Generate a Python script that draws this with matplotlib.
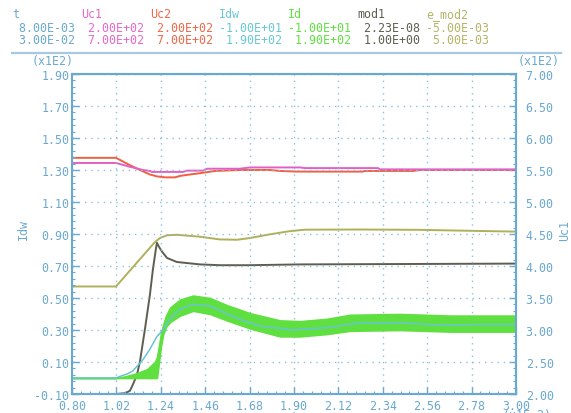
import matplotlib
matplotlib.use("Agg")
import matplotlib.pyplot as plt
import numpy as np
from matplotlib.lines import Line2D
from matplotlib.ticker import AutoMinorLocator

plt.rcParams['font.family'] = ['DejaVu Sans Mono']
plt.rcParams['axes.unicode_minus'] = False

# ---- data (t in seconds, Id/Idw in A, Uc in V) ----
t_idw = [0.800, 1.018, 1.038, 1.073, 1.102, 1.127, 1.152, 1.186, 1.221, 1.251, 1.286,
         1.335, 1.400, 1.484, 1.568, 1.657, 1.732, 1.895, 2.064, 2.227, 2.425, 2.623,
         2.822, 3.000]
idw = [0, 0, 1, 2.5, 4.5, 8, 11.5, 18, 26, 30, 37, 43, 46, 45, 40, 35.5, 32.5, 30,
       31.5, 34.5, 34.5, 33, 33.5, 33.5]

t_id = [0.800, 1.018, 1.063, 1.122, 1.172, 1.211, 1.221, 1.231, 1.241, 1.251, 1.266,
        1.286, 1.335, 1.400, 1.484, 1.568, 1.682, 1.831, 1.930, 2.064, 2.177, 2.425,
        2.673, 3.000]
id_low = [0, 0, 0, 0, 0, 0, 0, 10, 20, 27, 32, 35, 39, 42, 40, 36, 31, 26, 26, 27.5,
          29.5, 30, 29, 29]
id_high = [0, 0, 1, 3, 5.5, 10, 13, 20, 28, 33, 39, 44, 49, 51.5, 50, 45.5, 40.5, 36,
           35.5, 37, 39.5, 40, 39, 39]

t_uc1 = [0.800, 1.018, 1.087, 1.152, 1.186, 1.196, 1.350, 1.370, 1.449, 1.469, 1.632,
         1.682, 1.930, 1.955, 2.316, 2.326, 3.000]
uc1 = [561, 561, 555, 550, 548.5, 547, 547, 549, 549, 552, 552, 554, 554, 553, 553,
       551, 551]

t_uc2 = [0.800, 1.018, 1.087, 1.137, 1.186, 1.221, 1.261, 1.310, 1.335, 1.385, 1.434,
         1.509, 1.632, 1.781, 1.831, 1.915, 2.241, 2.251, 2.490, 2.524, 3.000]
uc2 = [569, 569, 557.5, 550, 543, 540, 538.5, 538.5, 540.75, 543, 545, 548.5, 550, 550,
       548.5, 547.5, 547.5, 548.5, 548.5, 550, 550]

t_mod1 = [0.800, 1.018, 1.063, 1.087, 1.102, 1.122, 1.137, 1.162, 1.186, 1.201, 1.216,
          1.221, 1.231, 1.246, 1.271, 1.320, 1.434, 1.533, 1.682, 1.930, 3.000]
mod1 = [0, 0, 0.0025, 0.01, 0.03, 0.06, 0.1025, 0.205, 0.31, 0.39, 0.455, 0.4725, 0.46,
        0.445, 0.425, 0.4125, 0.405, 0.4025, 0.4025, 0.405, 0.4075]

t_emod2 = [0.800, 1.018, 1.211, 1.236, 1.271, 1.320, 1.434, 1.533, 1.618, 1.682, 1.781,
           1.880, 1.955, 2.227, 2.524, 2.772, 3.000]
e_mod2 = [-1.64e-3, -1.64e-3, -0.25e-3, -0.125e-3, -0.04e-3, -0.025e-3, -0.085e-3,
          -0.17e-3, -0.18e-3, -0.125e-3, -0.01e-3, 0.09e-3, 0.135e-3, 0.14e-3, 0.13e-3,
          0.10e-3, 0.075e-3]

# header table: name, min, max, colour
names = ['t', 'Uc1', 'Uc2', 'Idw', 'Id', 'mod1', 'e_mod2']
mins = [' 8.00E-03', ' 2.00E+02', ' 2.00E+02', '-1.00E+01', '-1.00E+01', ' 2.23E-08', '-5.00E-03']
maxs = [' 3.00E-02', ' 7.00E+02', ' 7.00E+02', ' 1.90E+02', ' 1.90E+02', ' 1.00E+00', ' 5.00E-03']
colors = ['#6aa8d0', '#e868c8', '#f06848', '#68c8d4', '#60e040', '#5e5e52', '#b4b468']

AX_C = '#6aa8d0'
GRID_C = '#8cc0dc'

t_idw = np.array(t_idw) / 100
t_id = np.array(t_id) / 100
t_uc1 = np.array(t_uc1) / 100
t_uc2 = np.array(t_uc2) / 100
t_mod1 = np.array(t_mod1) / 100
t_emod2 = np.array(t_emod2) / 100

W, H = 571, 414
fig = plt.figure(figsize=(W / 100, H / 100), dpi=100)
ax = fig.add_axes([72 / W, 19 / H, 444 / W, 320 / H])
ax_r = ax.twinx()
ax_m = ax.twinx()
ax_e = ax.twinx()

ax.set_zorder(4)
ax.patch.set_visible(False)
ax_r.set_zorder(1)
ax_e.set_zorder(2)
ax_m.set_zorder(3)

# lower layers: capacitor voltages, modulation signals
ax_r.plot(t_uc2, uc2, color='#f06040', lw=1.4)
ax_r.plot(t_uc1, uc1, color='#e060c8', lw=1.4)
ax_r.set_ylim(200, 700)

ax_e.plot(t_emod2, e_mod2, color='#b0b058', lw=1.4)
ax_e.set_ylim(-5e-3, 5e-3)

ax_m.plot(t_mod1, mod1, color='#5e5e4e', lw=1.4, clip_on=False)
ax_m.set_ylim(2.23e-8, 1.0)

for a in (ax_m, ax_e):
    a.set_yticks([])
    for s in a.spines.values():
        s.set_visible(False)

# currents
ax.fill_between(t_id, id_low, id_high, color='#60e040', edgecolor='#60e040', lw=1.2)
ax.plot(t_idw, idw, color='#68c4d4', lw=1.1)
ax.set_ylim(-10, 190)
ax.set_xlim(0.008, 0.030)

# axes styling
xt = np.linspace(0.008, 0.030, 11)
ax.set_xticks(xt, labels=['%.2f' % (v * 100) for v in xt])
yt = np.linspace(-10, 190, 11)
ax.set_yticks(yt, labels=['%.2f' % (v / 100) for v in yt])
yr = np.linspace(200, 700, 11)
ax_r.set_yticks(yr, labels=['%.2f' % (v / 100) for v in yr])

ax.set_axisbelow(True)
ax.grid(True, color=GRID_C, ls=(0, (1, 3.5)), lw=1.0)

for a in (ax, ax_r):
    for s in a.spines.values():
        s.set_color(AX_C)
        s.set_linewidth(1.5)
    a.yaxis.set_minor_locator(AutoMinorLocator(5))
    a.tick_params(which='both', direction='in', colors=AX_C, labelsize=8.4)
    a.tick_params(which='major', length=5, width=1)
    a.tick_params(which='minor', length=2.5, width=0.8)
ax.xaxis.set_minor_locator(AutoMinorLocator(5))
ax.tick_params(axis='y', pad=2)
ax.tick_params(axis='x', pad=3.5)
ax_r.tick_params(axis='y', pad=7)
ax.tick_params(axis='y', right=False)
ax_r.spines['left'].set_visible(False)

# axis annotations
fs = 8.4
fig.text(23 / W, 1 - 230 / H, 'Idw', color=AX_C, fontsize=fs, rotation=90, ha='center', va='center')
fig.text(565 / W, 1 - 231 / H, 'Uc1', color=AX_C, fontsize=fs, rotation=90, ha='center', va='center')
fig.text(53 / W, 1 - 62 / H, '(x1E2)', color=AX_C, fontsize=fs, ha='center', va='center')
fig.text(539 / W, 1 - 62 / H, '(x1E2)', color=AX_C, fontsize=fs, ha='center', va='center')
fig.text(527 / W, 1 - 416 / H, '(x1E-2)', color=AX_C, fontsize=fs, ha='center', va='center')
fig.text(294 / W, 1 - 418 / H, 't', color=AX_C, fontsize=fs, ha='center', va='center')

# header block
for i in range(len(names)):
    x0 = (12 + 69 * i) / W
    fig.text(x0, 1 - 15 / H, names[i], color=colors[i], fontsize=fs, va='center')
    fig.text(x0, 1 - 29 / H, mins[i], color=colors[i], fontsize=fs, va='center')
    fig.text(x0, 1 - 41 / H, maxs[i], color=colors[i], fontsize=fs, va='center')

fig.add_artist(Line2D([12 / W, 561 / W], [1 - 53.5 / H] * 2, transform=fig.transFigure,
                      color='#a8c8e0', lw=1.6))

fig.savefig('out.png', dpi=100)
